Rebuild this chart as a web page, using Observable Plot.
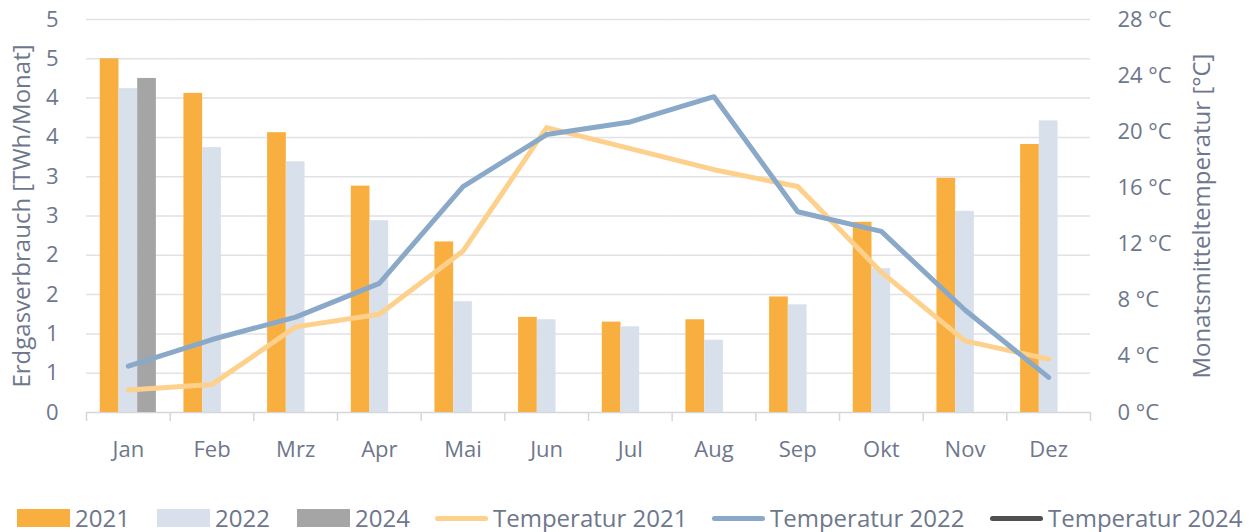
<!DOCTYPE html>
<html>
<head>
<meta charset="utf-8">
<script src="https://cdn.jsdelivr.net/npm/d3@7"></script>
<script src="https://cdn.jsdelivr.net/npm/@observablehq/plot@0.6"></script>
<style>
  body { margin: 0; background: #fff; font-family: "Open Sans", sans-serif; overflow: hidden; }
  #chart { position: relative; width: 1249px; height: 470px; }
  #chart svg { position: absolute; left: 0; top: 0; }
  #legend { position: relative; height: 62px; }
  .item { position: absolute; top: 36px; display: flex; align-items: center; height: 24px; line-height: 24px; color: #6E778C; font-size: 24px; }
  .sw { width: 53px; height: 18px; margin-right: 5px; }
  .ln { width: 53px; height: 5px; border-radius: 3px; margin-right: 5px; }
</style>
</head>
<body>
<div id="chart"></div>
<div id="legend"></div>
<script>
// ---- data ----
const months = ["Jan","Feb","Mrz","Apr","Mai","Jun","Jul","Aug","Sep","Okt","Nov","Dez"];
const years = ["2021","2022","2024"];
const gas2021 = [4.50, 4.06, 3.56, 2.88, 2.17, 1.21, 1.15, 1.18, 1.47, 2.42, 2.98, 3.41];
const gas2022 = [4.12, 3.37, 3.19, 2.44, 1.41, 1.18, 1.09, 0.92, 1.37, 1.83, 2.56, 3.71];
const gas2024 = [4.25, null, null, null, null, null, null, null, null, null, null, null];
const tempSeries = ["Temperatur 2021", "Temperatur 2022", "Temperatur 2024"];
const temp2021 = [1.6, 2.0, 6.1, 7.0, 11.5, 20.3, 18.8, 17.3, 16.1, 10.0, 5.1, 3.8];
const temp2022 = [3.3, 5.2, 6.8, 9.2, 16.1, 19.8, 20.7, 22.5, 14.3, 12.9, 7.3, 2.5];
const temp2024 = [null, null, null, null, null, null, null, null, null, null, null, null];
const gasTicks = [0, 0.5, 1, 1.5, 2, 2.5, 3, 3.5, 4, 4.5, 5];
const gasTickLabels = ["0","1","1","2","2","3","3","4","4","5","5"];
const tempTicks = [0, 4, 8, 12, 16, 20, 24, 28];
const tempTickLabels = ["0 °C","4 °C","8 °C","12 °C","16 °C","20 °C","24 °C","28 °C"];
const barColors = ["#F9AF3F", "#D8E0EB", "#A5A5A5"];
const lineColors = ["#FDD08C", "#8AA8C8", "#505050"];
const gasTitle = "Erdgasverbrauch [TWh/Monat]";
const tempTitle = "Monatsmitteltemperatur [°C]";

// ---- tables ----
const gasByYear = {"2021": gas2021, "2022": gas2022, "2024": gas2024};
const bars = [];
months.forEach((m, i) => years.forEach(y => {
  const v = gasByYear[y][i];
  if (v != null) bars.push({month: m, year: y, value: v});
}));
const tempBySeries = {"Temperatur 2021": temp2021, "Temperatur 2022": temp2022, "Temperatur 2024": temp2024};
const temps = [];
tempSeries.forEach(s => months.forEach((m, i) => {
  const v = tempBySeries[s][i];
  if (v != null) temps.push({month: m, series: s, t: v});
}));

const W = 1249, H = 470, ML = 86, MR = 159, MT = 19, MB = 58;
const textColor = "#6E778C";
const gridColor = "#E1E1E6";
const axisColor = "#D6D6DA";
const bw = (W - ML - MR) / months.length;
const style = {fontFamily: "Open Sans", fontSize: "22px", color: textColor, background: "transparent", overflow: "visible"};

const p1 = Plot.plot({
  width: W, height: H, marginLeft: ML, marginRight: MR, marginTop: MT, marginBottom: MB,
  style,
  fx: {domain: months, padding: 0, round: false},
  x: {domain: years, paddingInner: 0, paddingOuter: 0.737, round: false, axis: null},
  y: {domain: [0, 5]},
  color: {domain: years, range: barColors},
  marks: [
    Plot.gridY(gasTicks.slice(1), {stroke: gridColor, strokeOpacity: 1, strokeWidth: 1.5}),
    Plot.ruleY([0], {stroke: axisColor, strokeWidth: 1.5}),
    Plot.barY(bars, {fx: "month", x: "year", y: "value", fill: "year"}),
    Plot.axisY(gasTicks, {tickSize: 0, tickPadding: 28, tickFormat: (d, i) => gasTickLabels[i],
      label: null, fill: textColor}),
    Plot.axisFx({anchor: "bottom", tickSize: 0, tickPadding: 29, label: null, fill: textColor}),
    Plot.text([gasTitle], {frameAnchor: "left", dx: -64, rotate: -90, fontSize: 24, fill: textColor, textAnchor: "middle", facet: "super"})
  ]
});

const p2 = Plot.plot({
  width: W, height: H, marginLeft: ML, marginRight: MR, marginTop: MT, marginBottom: MB,
  style,
  x: {type: "band", domain: months, padding: 0, round: false, axis: null},
  y: {domain: [0, 28]},
  color: {domain: tempSeries, range: lineColors},
  marks: [
    Plot.ruleX(months, {x: d => d, y1: 0, y2: 0, insetBottom: -9, dx: -bw / 2, stroke: axisColor, strokeWidth: 1.5}),
    Plot.ruleX(months.slice(-1), {x: d => d, y1: 0, y2: 0, insetBottom: -9, dx: bw / 2, stroke: axisColor, strokeWidth: 1.5}),
    Plot.line(temps, {x: "month", y: "t", z: "series", stroke: "series", strokeWidth: 5,
      strokeLinejoin: "round", strokeLinecap: "round"}),
    Plot.axisY(tempTicks, {anchor: "right", tickSize: 0, tickPadding: 27, textAnchor: "start",
      tickFormat: (d, i) => tempTickLabels[i], label: null, fill: textColor}),
    Plot.text([tempTitle], {frameAnchor: "right", dx: 112, rotate: -90, fontSize: 24, fill: textColor, textAnchor: "middle"})
  ]
});

const chart = document.getElementById("chart");
chart.appendChild(p1);
chart.appendChild(p2);

// ---- legend ----
const legendItems = [
  ...years.map((y, i) => ({label: y, kind: "sw", color: barColors[i]})),
  ...tempSeries.map((s, i) => ({label: s, kind: "ln", color: lineColors[i]}))
];
const legendX = [17, 157, 297, 435, 712, 990];
const legend = document.getElementById("legend");
legendItems.forEach((it, i) => {
  const d = document.createElement("div");
  d.className = "item";
  d.style.left = legendX[i] + "px";
  const s = document.createElement("span");
  s.className = it.kind;
  s.style.background = it.color;
  const t = document.createElement("span");
  t.textContent = it.label;
  d.appendChild(s); d.appendChild(t);
  legend.appendChild(d);
});
</script>
</body>
</html>
